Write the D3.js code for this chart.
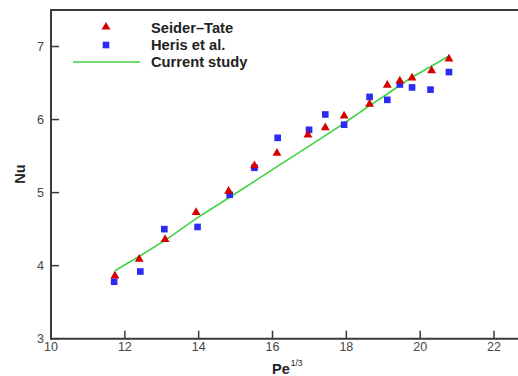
<!DOCTYPE html>
<html>
<head>
<meta charset="utf-8">
<script src="https://cdn.jsdelivr.net/npm/d3@7"></script>
<style>
  body { margin: 0; background: #fff; }
  svg { display: block; font-family: "Liberation Sans", Arial, sans-serif; }
</style>
</head>
<body>
<div id="chart"></div>
<script>
// Seider-Tate correlation
const seiderX = [11.73, 12.39, 13.09, 13.93, 14.81, 15.51, 16.12, 16.96, 17.43, 17.94, 18.63, 19.11, 19.45, 19.78, 20.31, 20.78];
const seiderY = [3.86, 4.09, 4.36, 4.73, 5.02, 5.37, 5.54, 5.79, 5.89, 6.05, 6.21, 6.47, 6.53, 6.57, 6.67, 6.83];
// Heris et al.
const herisX = [11.71, 12.42, 13.07, 13.97, 14.84, 15.51, 16.14, 16.99, 17.43, 17.94, 18.63, 19.11, 19.45, 19.78, 20.28, 20.78];
const herisY = [3.78, 3.92, 4.50, 4.53, 4.97, 5.34, 5.75, 5.86, 6.07, 5.93, 6.31, 6.27, 6.48, 6.44, 6.41, 6.65];
// Current study
const studyX = [11.73, 12.4, 13.1, 13.95, 14.82, 15.5, 16.1, 16.97, 17.43, 17.94, 18.63, 19.11, 19.45, 19.78, 20.3, 20.78];
const studyY = [3.93, 4.13, 4.35, 4.65, 4.93, 5.15, 5.35, 5.63, 5.78, 5.95, 6.19, 6.35, 6.47, 6.58, 6.73, 6.87];

const xTicks = [10, 12, 14, 16, 18, 20, 22];
const yTicks = [3, 4, 5, 6, 7];
const legendNames = ['Seider\u2013Tate', 'Heris et al.', 'Current study'];

const W = 518, H = 376;
const mLeft = 51, mTop = 10, mBottom = 338.7;

const x = d3.scaleLinear().domain([10, 22.65]).range([mLeft, 518]);
const y = d3.scaleLinear().domain([3, 7.5]).range([mBottom, mTop]);

const svg = d3.select('#chart').append('svg')
  .attr('width', W).attr('height', H);

const axisColor = '#3a3a3a';

// frame (right side runs off the picture)
svg.append('path')
  .attr('d', `M${W + 5},${mTop}H${mLeft}V${mBottom}H${W + 5}`)
  .style('fill', 'none').style('stroke', axisColor).style('stroke-width', 2);

// ticks inward
svg.selectAll('.xtick').data(xTicks).enter().append('line')
  .attr('x1', d => x(d)).attr('x2', d => x(d))
  .attr('y1', mBottom).attr('y2', mBottom - 8)
  .style('stroke', axisColor).style('stroke-width', 1.5);
svg.selectAll('.xlab').data(xTicks).enter().append('text')
  .attr('x', d => x(d)).attr('y', mBottom + 12.5)
  .attr('text-anchor', 'middle')
  .style('font-size', '12.5px').style('fill', '#444')
  .text(d => d);

svg.selectAll('.ytick').data(yTicks).enter().append('line')
  .attr('x1', mLeft).attr('x2', mLeft + 8)
  .attr('y1', d => y(d)).attr('y2', d => y(d))
  .style('stroke', axisColor).style('stroke-width', 1.5);
svg.selectAll('.ylab').data(yTicks).enter().append('text')
  .attr('x', mLeft - 7).attr('y', d => y(d) + 4)
  .attr('text-anchor', 'end')
  .style('font-size', '12.5px').style('fill', '#444')
  .text(d => d);

// axis titles
const xt = svg.append('text')
  .attr('x', 272).attr('y', 374)
  .style('font-size', '14.5px').style('font-weight', 'bold').style('fill', '#222');
xt.append('tspan').text('Pe');
xt.append('tspan').attr('dx', 1).attr('dy', -8).style('font-size', '8.5px').style('font-weight', 'normal').text('1/3');

svg.append('text')
  .attr('transform', 'translate(25,174) rotate(-90)')
  .attr('text-anchor', 'middle')
  .style('font-size', '14.5px').style('font-weight', 'bold').style('fill', '#222')
  .text('Nu');

// current study line
const study = studyX.map((d, i) => [d, studyY[i]]);
svg.append('path')
  .datum(study)
  .attr('d', d3.line().x(d => x(d[0])).y(d => y(d[1])))
  .style('fill', 'none').style('stroke', '#3fd23f').style('stroke-width', 1.6);

const tri = d3.symbol().type(d3.symbolTriangle).size(34);
const sq = d3.symbol().type(d3.symbolSquare).size(44);

svg.selectAll('.heris').data(herisX.map((d, i) => [d, herisY[i]])).enter().append('path')
  .attr('d', sq)
  .attr('transform', d => `translate(${x(d[0])},${y(d[1])})`)
  .style('fill', '#2b2bf5');

svg.selectAll('.seider').data(seiderX.map((d, i) => [d, seiderY[i]])).enter().append('path')
  .attr('d', tri)
  .attr('transform', d => `translate(${x(d[0])},${y(d[1])})`)
  .style('fill', '#d40000');

// legend
const lg = svg.append('g');
lg.append('path').attr('d', tri).attr('transform', 'translate(106,27)').style('fill', '#d40000');
lg.append('path').attr('d', sq).attr('transform', 'translate(106,45)').style('fill', '#2b2bf5');
lg.append('line').attr('x1', 73).attr('x2', 140).attr('y1', 62).attr('y2', 62)
  .style('stroke', '#3fd23f').style('stroke-width', 1.6);
lg.selectAll('text').data(legendNames).enter().append('text')
  .attr('x', 151).attr('y', (d, i) => 32.5 + i * 17.3)
  .style('font-size', '14.7px').style('font-weight', 'bold').style('fill', '#222')
  .text(d => d);
</script>
</body>
</html>
